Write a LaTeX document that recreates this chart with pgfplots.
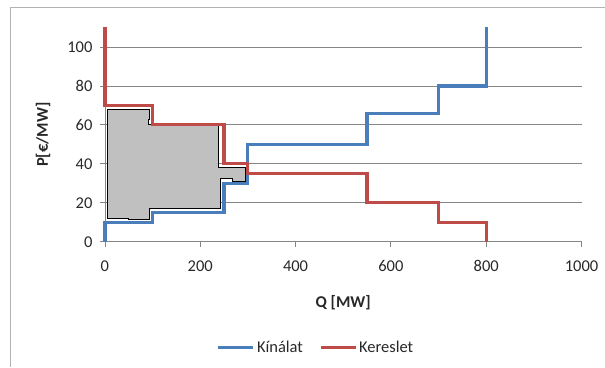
\documentclass[border=0pt]{standalone}
\usepackage{pgfplots}
\pgfplotsset{compat=1.18}
\usepackage{fontspec}
\setmainfont{Carlito}
\definecolor{supblue}{RGB}{74,126,187}
\definecolor{demred}{RGB}{190,75,72}
\definecolor{gridgray}{RGB}{134,134,134}
\definecolor{txtgray}{RGB}{40,40,40}
\definecolor{fillgray}{RGB}{192,192,192}
\begin{document}
\begin{tikzpicture}[x=1pt,y=1pt]
\path (0,0) rectangle (605,367);
\draw[black!30, line width=1pt] (11,0) -- (11,359) -- (605,359);
\begin{axis}[
  at={(105pt,125pt)}, anchor=south west,
  scale only axis, width=477pt, height=214.5pt,
  xmin=0, xmax=1000, ymin=0, ymax=110,
  xtick={0,200,...,1000}, ytick={0,20,...,100},
  axis x line*=bottom, axis y line*=left,
  axis line style={gridgray, line width=0.8pt, -},
  tick style={gridgray, line width=0.8pt},
  tick align=outside, major tick length=5pt,
  ymajorgrids, grid style={gridgray, line width=0.8pt},
  clip=false,
  font=\fontsize{16.5}{19}\selectfont,
  tick label style={font=\fontsize{16.5}{19}\selectfont, text=txtgray},
  xticklabel style={yshift=-10pt},
  yticklabel style={xshift=-4pt},
  /pgf/number format/assume math mode=true,
  /pgf/number format/1000 sep={},
  xlabel={Q [MW]}, ylabel={P[€/MW]},
  label style={font=\fontsize{16.5}{19}\selectfont\bfseries, text=txtgray},
  xlabel style={at={(axis description cs:0.5,-0.285)}, anchor=center},
  ylabel style={at={(axis description cs:-0.13,0.5)}, anchor=center},
  legend columns=2,
  legend style={draw=none, fill=none, at={(axis description cs:0.443,-0.494)}, anchor=center,
    font=\fontsize{16.5}{19}\selectfont, text=txtgray,
    /tikz/every even column/.append style={column sep=14pt}},
  legend image code/.code={\draw[#1] (0pt,0pt) -- (35pt,0pt);},
]
\addplot[fill=fillgray, draw=black, line width=1pt, forget plot] coordinates {
 (6,12.2) (6,67.7) (94,67.7) (94,63) (91,63) (91,60) (238,60) (238,38)
 (294,38) (294,31) (267,31) (267,32.3) (243,32.3) (243,17) (94,17)
 (94,11.7) (49,11.7) (49,12.2) (6,12.2)} -- cycle;
\addplot[supblue, line width=3.2pt] coordinates {
 (0,0) (0,10) (100,10) (100,15) (250,15) (250,30) (300,30) (300,50)
 (550,50) (550,66) (700,66) (700,80) (800,80) (800,110)};
\addlegendentry{Kínálat}
\addplot[demred, line width=3.2pt] coordinates {
 (0,110) (0,70) (100,70) (100,60) (250,60) (250,40) (300,40) (300,35)
 (550,35) (550,20) (700,20) (700,10) (800,10) (800,0)};
\addlegendentry{Kereslet}
\end{axis}
\end{tikzpicture}
\end{document}
